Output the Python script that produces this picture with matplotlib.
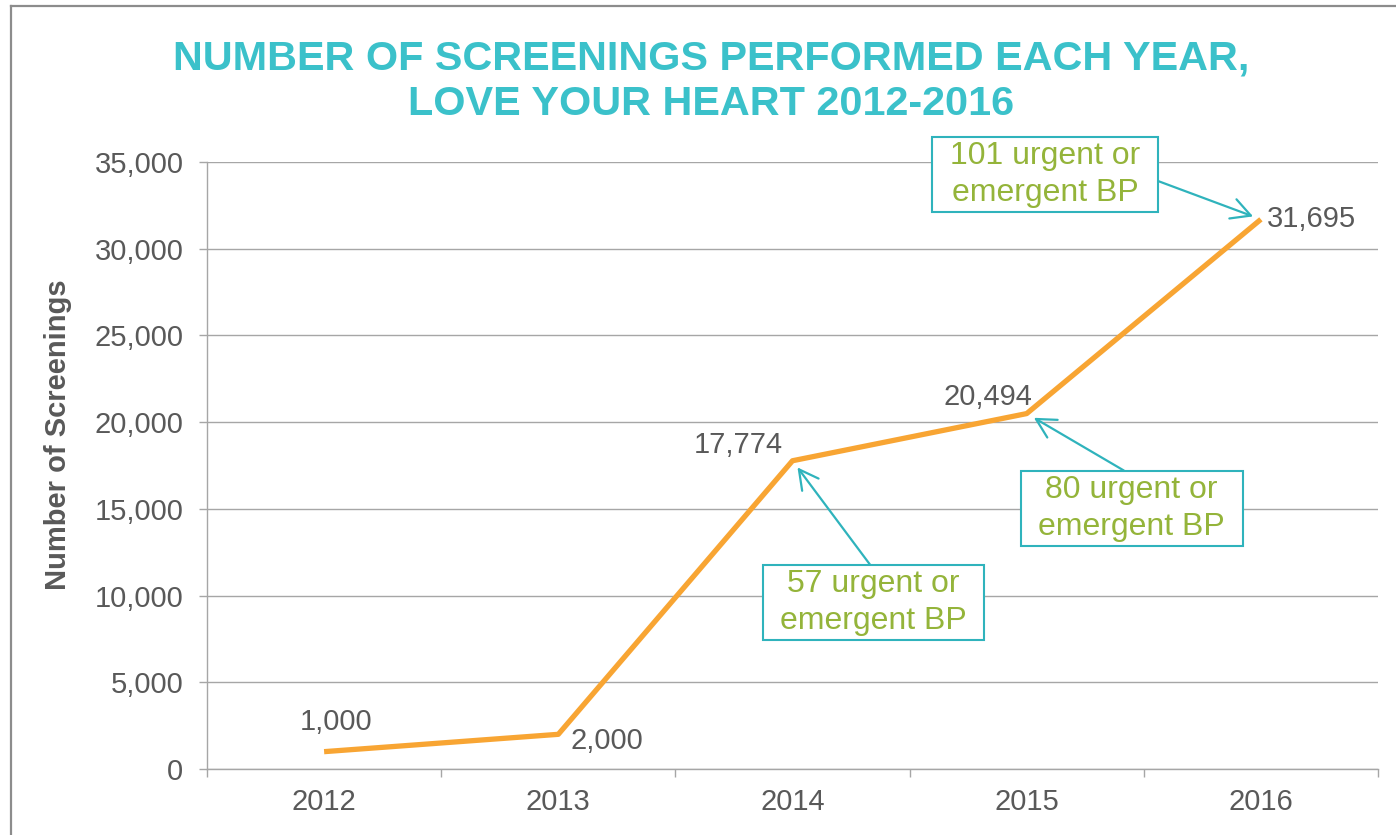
import matplotlib
matplotlib.use("Agg")
import matplotlib.pyplot as plt
from matplotlib.path import Path
from matplotlib.lines import Line2D
from matplotlib.ticker import FuncFormatter, FixedLocator

years = ["2012", "2013", "2014", "2015", "2016"]
screenings = [1000, 2000, 17774, 20494, 31695]
value_labels = ["1,000", "2,000", "17,774", "20,494", "31,695"]
callout_years = ["2014", "2015", "2016"]
callout_texts = ["57 urgent or\nemergent BP", "80 urgent or\nemergent BP", "101 urgent or\nemergent BP"]
title_lines = ["NUMBER OF SCREENINGS PERFORMED EACH YEAR,", "LOVE YOUR HEART 2012-2016"]
y_label = "Number of Screenings"

W, H = 1396, 835
DPI = 100
GRAY_TXT = "#595959"
GRID = "#A6A6A6"
ORANGE = "#F8A533"
TEAL = "#3BC1CA"
TEAL_EDGE = "#2FB3BC"
GREEN = "#94B43A"

plt.rcParams["font.family"] = ["Liberation Sans", "DejaVu Sans"]

fig = plt.figure(figsize=(W / DPI, H / DPI), dpi=DPI)
ax = fig.add_axes([207 / W, 1 - 769 / H, (1378 - 207) / W, (769 - 162) / H])

x = list(range(len(years)))
ax.plot(x, screenings, color=ORANGE, lw=3.8, solid_capstyle="butt", zorder=3)

ax.set_xlim(-0.5, len(years) - 0.5)
ax.set_ylim(0, 35000)
ax.set_yticks(range(0, 35001, 5000))
ax.yaxis.set_major_formatter(FuncFormatter(lambda v, p: f"{int(v):,}"))
ax.set_xticks(x)
ax.set_xticklabels(years)
ax.xaxis.set_minor_locator(FixedLocator([i - 0.5 for i in range(len(years) + 1)]))

ax.grid(axis="y", color=GRID, lw=1.0, zorder=0)
for s in ["top", "right"]:
    ax.spines[s].set_visible(False)
for s in ["left", "bottom"]:
    ax.spines[s].set_color(GRID)
    ax.spines[s].set_linewidth(1.0)

ax.tick_params(axis="y", which="major", length=6, color=GRID, width=1.0,
               labelsize=21, labelcolor=GRAY_TXT, pad=11)
ax.tick_params(axis="x", which="major", length=0, labelsize=21,
               labelcolor=GRAY_TXT, pad=14)
ax.tick_params(axis="x", which="minor", length=6, color=GRID, width=1.0)

# y label
fig.text(58 / W, 1 - 435 / H, y_label, rotation=90, ha="center", va="center",
         fontsize=21, fontweight="bold", color=GRAY_TXT)

# title
for i, line in enumerate(title_lines):
    fig.text(711 / W, 1 - (58 + 46 * i) / H, line, ha="center", va="center",
             fontsize=29.8, fontweight="bold", color=TEAL)

# data labels (offsets in pixels)
label_offsets = [(12, 30, "center"), (12, -7, "left"), (-10, 16, "right"),
                 (-39, 17, "center"), (6, 0, "left")]
for xi, yv, lab, (dx, dy, ha) in zip(x, screenings, value_labels, label_offsets):
    ax.annotate(lab, (xi, yv), xytext=(dx, dy), textcoords="offset pixels",
                ha=ha, va="center", fontsize=21, color=GRAY_TXT, zorder=5)


def rect_box(x0, y0, width, height, mutation_size):
    px = 0.55 * mutation_size
    py = 0.12 * mutation_size
    x0, y0 = x0 - px, y0 - py
    x1, y1 = x0 + width + 2 * px, y0 + height + 2 * py
    return Path([(x0, y0), (x1, y0), (x1, y1), (x0, y1), (x0, y0)],
                [Path.MOVETO, Path.LINETO, Path.LINETO, Path.LINETO, Path.CLOSEPOLY])


callout_offsets = [(81, -142, (0.5, 1.0)), (105, -95, (0.5, 1.0)), (-216, 45, (1.0, 0.5))]
for yr, txt, (dx, dy, rel) in zip(callout_years, callout_texts, callout_offsets):
    i = years.index(yr)
    ax.annotate(txt, (i, screenings[i]), xytext=(dx, dy), textcoords="offset pixels",
                ha="center", va="center", multialignment="center", linespacing=1.3,
                fontsize=23, color=GREEN, zorder=6,
                bbox=dict(boxstyle=rect_box, fc="white", ec=TEAL_EDGE, lw=1.5),
                arrowprops=dict(arrowstyle="->,head_length=0.6,head_width=0.32",
                                color=TEAL_EDGE, lw=1.6, relpos=rel,
                                shrinkA=0, shrinkB=6))

# outer frame (left and top edges visible)
fig.add_artist(Line2D([11 / W, 11 / W], [0, 1 - 6 / H], transform=fig.transFigure,
                      color="#8C8C8C", lw=1.6))
fig.add_artist(Line2D([11 / W, 1], [1 - 6 / H, 1 - 6 / H], transform=fig.transFigure,
                      color="#8C8C8C", lw=1.6))

fig.savefig("out.png", dpi=DPI, facecolor="white")
